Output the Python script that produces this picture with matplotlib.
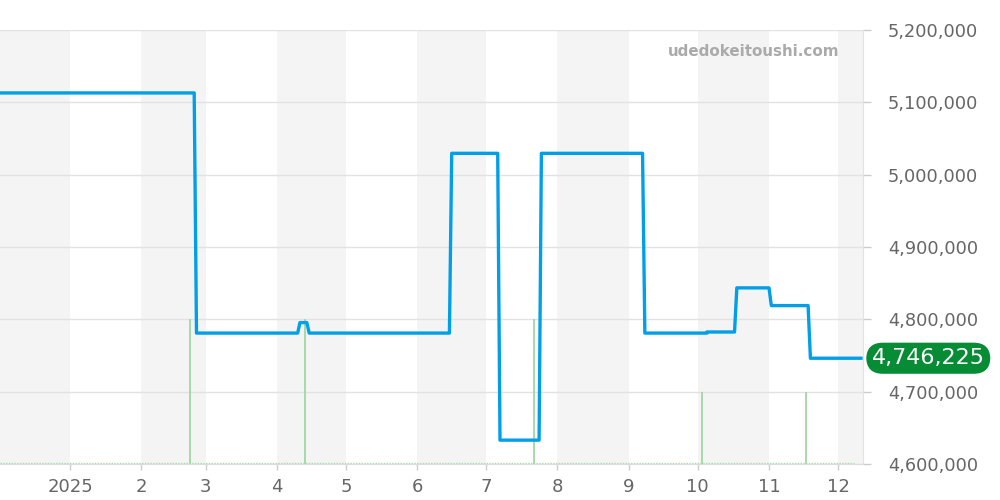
import matplotlib
matplotlib.use("Agg")
import matplotlib.pyplot as plt
from datetime import datetime

# ---- data ----
price_dates = ["2024-12-02", "2025-02-24", "2025-02-25", "2025-04-10", "2025-04-11",
               "2025-04-14", "2025-04-15", "2025-06-15", "2025-06-16", "2025-07-06",
               "2025-07-07", "2025-07-24", "2025-07-25", "2025-09-07", "2025-09-08",
               "2025-10-05", "2025-10-05", "2025-10-17", "2025-10-18", "2025-11-01",
               "2025-11-02", "2025-11-18", "2025-11-19", "2025-12-11"]
price_values = [5113000, 5113000, 4781000, 4781000, 4795500,
                4795500, 4781000, 4781000, 5029500, 5029500,
                4633000, 4633000, 5029500, 5029500, 4781000,
                4781000, 4782500, 4782500, 4843500, 4843500,
                4819000, 4819000, 4746225, 4746225]
volume_dates = ["2025-02-22", "2025-04-13", "2025-07-22", "2025-10-03", "2025-11-17"]
volume_values = [2, 2, 2, 1, 1]
month_ticks = ["2025-01-01", "2025-02-01", "2025-03-01", "2025-04-01", "2025-05-01",
               "2025-06-01", "2025-07-01", "2025-08-01", "2025-09-01", "2025-10-01",
               "2025-11-01", "2025-12-01"]
month_labels = ["2025", "2", "3", "4", "5", "6", "7", "8", "9", "10", "11", "12"]
y_ticks = [4600000, 4700000, 4800000, 4900000, 5000000, 5100000, 5200000]
latest_value = 4746225

# ---- figure ----
fig = plt.figure(figsize=(10, 5), dpi=100)
pos = [0.0, 0.072, 0.863, 0.868]
xmin = datetime(2024, 12, 1, 13)
xmax = datetime(2025, 12, 11, 21)

# background axis: month bands + grid
bg = fig.add_axes(pos, zorder=-5)
bg.set_xlim(xmin, xmax)
bg.set_ylim(4600000, 5200000)
band_starts = [datetime(2024, 12, 1)] + [datetime.fromisoformat(d) for d in month_ticks]
for i, s in enumerate(band_starts):
    if i % 2 == 0:
        e = band_starts[i + 1] if i + 1 < len(band_starts) else datetime(2026, 1, 1)
        bg.axvspan(max(s, xmin), min(e, xmax), color="#f4f4f4", lw=0, zorder=0)
for v in y_ticks:
    bg.axhline(v, color="#e2e2e2", lw=1, zorder=1)
bg.axis("off")

# volume axis
ax2 = fig.add_axes(pos, zorder=-2)
ax2.set_xlim(xmin, xmax)
ax2.set_ylim(0, 6)
vd = [datetime.fromisoformat(d) for d in volume_dates]
ax2.vlines(vd, 0, volume_values, color="#9ed8a4", lw=1.3)
ax2.plot([xmin, datetime(2025, 12, 8)], [0.02, 0.02], color="#a8dcae", lw=1, ls=(0, (1, 1)))
ax2.axis("off")

# main price axis
ax = fig.add_axes(pos, zorder=1)
ax.patch.set_visible(False)
ax.set_xlim(xmin, xmax)
ax.set_ylim(4600000, 5200000)
pd_ = [datetime.fromisoformat(d) for d in price_dates]
ax.plot(pd_, price_values, color="#009fe8", lw=2.4, zorder=5)

ax.yaxis.tick_right()
ax.set_yticks(y_ticks)
ax.set_yticklabels([f"{v:,}" for v in y_ticks])
ax.set_xticks([datetime.fromisoformat(d) for d in month_ticks])
ax.set_xticklabels(month_labels)
ax.tick_params(axis="y", colors="#cccccc", labelcolor="#666666", labelsize=12.8,
               length=6, width=1, pad=12, right=True, left=False)
ax.tick_params(axis="x", colors="#cccccc", labelcolor="#666666", labelsize=13,
               length=4, width=1, pad=6)
for s in ["top", "left"]:
    ax.spines[s].set_visible(False)
ax.spines["right"].set_color("#e2e2e2")
ax.spines["bottom"].set_color("#dddddd")

# watermark
ax.text(0.973, 0.95, "udedokeitoushi.com", transform=ax.transAxes, ha="right", va="center",
        fontsize=10.9, fontweight="bold", color="#aaaaaa", zorder=6)

# latest value badge
ax.annotate(f"{latest_value:,}", xy=(1.0, latest_value), xycoords=("axes fraction", "data"),
            xytext=(47, 0), textcoords="offset points", ha="center", va="center",
            fontsize=16, color="white", annotation_clip=False, zorder=10,
            bbox=dict(boxstyle="round,pad=0.25,rounding_size=0.75", fc="#078c36", ec="none"))

fig.savefig("out.png", dpi=100)
